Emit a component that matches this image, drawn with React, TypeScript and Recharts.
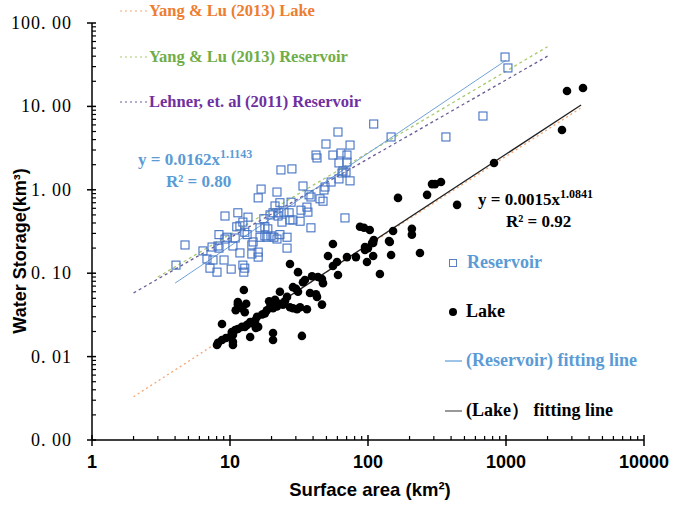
import React from 'react';
import { ScatterChart, Scatter, XAxis, YAxis } from 'recharts';

// axis ticks (log scales)
const X_MAJOR = [1, 10, 100, 1000, 10000];
const Y_MAJOR = [0.001, 0.01, 0.1, 1, 10, 100];
const STEPS = [1, 2, 3, 4, 5, 6, 7, 8, 9];
const X_TICKS = X_MAJOR.slice(0, -1).flatMap(d => STEPS.map(s => +(d * s).toPrecision(3))).concat([10000]);
const Y_TICKS = Y_MAJOR.slice(0, -1).flatMap(d => STEPS.map(s => +(d * s).toPrecision(3))).concat([100]);

// reservoirs: surface area (km2) / storage (km3)
const RES_AREA = [
  110, 60.6, 147, 49.6, 74.1, 42.0, 42.7, 55.7, 63.7, 70.4, 61.6, 70.4, 23.4, 28.1, 65.9, 69.3, 64.8, 61.6, 74.1, 54.0,
  48.8, 48.0, 33.8, 16.8, 21.9, 16.0, 37.4, 38.6, 44.9, 47.2, 27.7, 23.0, 21.2, 20.5, 22.6, 24.6, 26.8, 23.8, 27.2, 28.6,
  32.2, 32.7, 36.1, 36.7, 19.5, 22.3, 11.4, 13.5, 9.2, 12.4, 11.8, 11.2, 17.6, 17.9, 16.5, 18.5, 18.8, 38.6, 68.1, 8.32,
  9.51, 9.2, 10.9, 12.8, 13.3, 16.5, 17.9, 19.8, 20.8, 23.0, 25.9, 21.9, 4.72, 7.41, 8.18, 8.32, 10.5, 14.7, 14.4, 6.37,
  6.81, 7.53, 9.05, 11.8, 14.4, 16.0, 16.0, 25.9, 4.06, 7.16, 8.05, 10.2, 12.4, 12.6, 12.8, 984, 1033, 367, 681,
];
const RES_STORAGE = [
  6.15, 4.93, 4.3, 3.54, 3.44, 2.61, 2.41, 2.61, 2.76, 2.61, 2.1, 2.15, 1.73, 1.78, 1.68, 1.63, 1.59, 1.35, 1.28, 1.24,
  1.08, 0.995, 1.11, 1.02, 0.94, 0.8, 0.87, 0.82, 0.78, 0.73, 0.71, 0.7, 0.64, 0.53, 0.53, 0.54, 0.53, 0.41, 0.435, 0.435,
  0.42, 0.57, 0.62, 0.54, 0.5, 0.485, 0.53, 0.47, 0.485, 0.41, 0.37, 0.36, 0.45, 0.36, 0.35, 0.27, 0.34, 0.35, 0.46, 0.29,
  0.27, 0.257, 0.264, 0.31, 0.29, 0.27, 0.28, 0.28, 0.27, 0.29, 0.27, 0.257, 0.218, 0.206, 0.212, 0.2, 0.212, 0.237, 0.218, 0.185,
  0.148, 0.144, 0.144, 0.175, 0.17, 0.179, 0.156, 0.2, 0.125, 0.115, 0.103, 0.112, 0.125, 0.103, 0.115, 39.1, 28.9, 4.3, 7.67,
];

// lakes
const LAKE_AREA = [
  3614, 2767, 2545, 819, 291, 306, 338, 268, 165, 442, 87.5, 93.5, 103, 152, 208, 208, 142, 110, 107, 100,
  55.7, 147, 238, 51.3, 59.6, 55.7, 60.6, 70.4, 81.8, 95.1, 98.3, 109, 122, 27.2, 31.1, 39.3, 43.4, 46.4, 47.2, 33.8,
  34.9, 28.6, 30.1, 31.1, 23.0, 12.6, 25.9, 25.0, 38.0, 42.0, 42.7, 46.4, 36.1, 32.2, 27.2, 28.6, 30.6, 21.2, 20.2, 19.2,
  24.2, 23.0, 21.9, 20.5, 18.5, 19.5, 17.9, 17.1, 13.1, 11.4, 11.0, 12.8, 15.7, 15.2, 14.7, 14.0, 13.3, 12.8, 16.0, 15.4,
  12.2, 11.4, 10.9, 10.3, 10.5, 10.0, 9.35, 8.75, 8.18, 8.05, 8.75, 14.0, 20.5, 20.5, 33.2, 10.5, 10.5, 95.1, 109, 144,
  11.4, 12.2,
];
const LAKE_STORAGE = [
  16.6, 15.3, 5.21, 2.1, 1.17, 1.17, 1.24, 0.87, 0.8, 0.66, 0.36, 0.35, 0.33, 0.32, 0.34, 0.29, 0.243, 0.25, 0.23, 0.2,
  0.224, 0.165, 0.175, 0.161, 0.136, 0.122, 0.095, 0.156, 0.156, 0.19, 0.136, 0.161, 0.098, 0.129, 0.103, 0.092, 0.09, 0.085, 0.076, 0.078,
  0.083, 0.068, 0.065, 0.06, 0.06, 0.063, 0.052, 0.046, 0.058, 0.056, 0.052, 0.042, 0.037, 0.039, 0.039, 0.038, 0.037, 0.048, 0.045, 0.046,
  0.042, 0.043, 0.04, 0.038, 0.036, 0.039, 0.033, 0.032, 0.043, 0.042, 0.036, 0.034, 0.03, 0.027, 0.025, 0.026, 0.024, 0.0227, 0.0227, 0.022,
  0.0227, 0.0214, 0.0208, 0.0197, 0.0182, 0.0172, 0.0167, 0.0158, 0.0146, 0.0138, 0.0246, 0.0172, 0.0192, 0.0158, 0.0177, 0.0138, 0.015, 0.206, 0.23, 0.237,
  0.045, 0.038,
];

// fitted / reference lines (end points)
const RES_FIT = [{ x: 4, y: 0.076 }, { x: 1000, y: 35.7 }];
const LAKE_FIT = [{ x: 8, y: 0.0142 }, { x: 3500, y: 10.4 }];
const YANG_LAKE = [{ x: 2, y: 0.0033 }, { x: 3500, y: 9.6 }];
const YANG_RES = [{ x: 3, y: 0.09 }, { x: 2000, y: 52 }];
const LEHNER_RES = [{ x: 2, y: 0.058 }, { x: 2000, y: 40 }];

const reservoirs = RES_AREA.map((x, i) => ({ x, y: RES_STORAGE[i] }));
const lakes = LAKE_AREA.map((x, i) => ({ x, y: LAKE_STORAGE[i] }));

const SERIF = "'Liberation Serif', 'Times New Roman', serif";
const SANS = "'Liberation Sans', Arial, sans-serif";

const noShape = () => <g />;

const Square = (p: any) => (
  <rect x={p.cx - 4} y={p.cy - 4} width={8} height={8} fill="none" stroke="#4472C4" strokeWidth={1.1} />
);
const Dot = (p: any) => <circle cx={p.cx} cy={p.cy} r={4.3} fill="#000" />;

function YTick({ x, y, payload }: any) {
  const v = payload.value;
  const major = Y_MAJOR.includes(v);
  if (!major) return <line x1={x} x2={x + 4} y1={y} y2={y} stroke="#000" strokeWidth={1.2} />;
  return (
    <g>
      <line x1={x - 5} x2={x + 4} y1={y} y2={y} stroke="#000" strokeWidth={1.5} />
      <text x={x - 20} y={y} dy={6} textAnchor="end" fontFamily={SERIF} fontSize={18} letterSpacing={1} fill="#000">
        {v.toFixed(2).replace('.', '. ')}
      </text>
    </g>
  );
}

function XTick({ x, y, payload }: any) {
  const v = payload.value;
  const major = X_MAJOR.includes(v);
  if (!major) return <line x1={x} x2={x} y1={y} y2={y - 4} stroke="#000" strokeWidth={1.2} />;
  return (
    <g>
      <line x1={x} x2={x} y1={y - 5} y2={y + 6} stroke="#000" strokeWidth={1.5} />
      <text x={x} y={y + 28} textAnchor="middle" fontFamily={SANS} fontWeight="bold" fontSize={18} fill="#000">
        {v}
      </text>
    </g>
  );
}

function Note({ left, top, color, size = 17, children }: any) {
  return (
    <div
      style={{
        position: 'absolute', left, top: top - size * 0.6, lineHeight: `${size * 1.2}px`,
        fontFamily: SERIF, fontWeight: 'bold', fontSize: size, color, whiteSpace: 'nowrap',
      }}
    >
      {children}
    </div>
  );
}

function Seg({ left, top, width, color, dash }: any) {
  return (
    <svg style={{ position: 'absolute', left, top: top - 2 }} width={width} height={4}>
      <line x1={0} x2={width} y1={2} y2={2} stroke={color} strokeWidth={1.2} strokeDasharray={dash} />
    </svg>
  );
}

const sup = { fontSize: 12, position: 'relative' as const, top: -7 };

export default function App() {
  return (
    <div style={{ position: 'absolute', left: 0, top: 0, width: 675, height: 505, background: '#fff' }}>
      <ScatterChart width={675} height={505} margin={{ top: 23, right: 31, bottom: 0, left: 0 }}>
        <XAxis
          type="number" dataKey="x" scale="log" domain={[1, 10000]} ticks={X_TICKS} interval={0}
          height={65} tickSize={0} tickMargin={0} tickLine={false} tick={<XTick />}
          axisLine={{ stroke: '#000', strokeWidth: 1.5 }} allowDataOverflow
        />
        <YAxis
          type="number" dataKey="y" scale="log" domain={[0.001, 100]} ticks={Y_TICKS} interval={0}
          width={92} tickSize={0} tickMargin={0} tickLine={false} tick={<YTick />}
          axisLine={{ stroke: '#000', strokeWidth: 1.5 }} allowDataOverflow
        />
        <Scatter data={YANG_LAKE} line={{ stroke: '#F4A772', strokeWidth: 1.3, strokeDasharray: '2 3' }} shape={noShape} isAnimationActive={false} />
        <Scatter data={YANG_RES} line={{ stroke: '#A9C96A', strokeWidth: 1.3, strokeDasharray: '3 3' }} shape={noShape} isAnimationActive={false} />
        <Scatter data={LEHNER_RES} line={{ stroke: '#6A5A96', strokeWidth: 1.3, strokeDasharray: '3 3' }} shape={noShape} isAnimationActive={false} />
        <Scatter data={LAKE_FIT} line={{ stroke: '#222', strokeWidth: 1.3 }} shape={noShape} isAnimationActive={false} />
        <Scatter data={RES_FIT} line={{ stroke: '#6FA3D8', strokeWidth: 1 }} shape={noShape} isAnimationActive={false} />
        <Scatter data={reservoirs} shape={Square} isAnimationActive={false} />
        <Scatter data={lakes} shape={Dot} isAnimationActive={false} />
      </ScatterChart>

      {/* reference relations */}
      <Seg left={120} top={11} width={27} color="#F4A772" dash="2 3" />
      <Note left={149} top={11} color="#ED7D31" size={16.5}>Yang &amp; Lu (2013) Lake</Note>
      <Seg left={120} top={57} width={27} color="#A9C96A" dash="2 3" />
      <Note left={149} top={57} color="#70AD47" size={16.5}>Yang &amp; Lu (2013) Reservoir</Note>
      <Seg left={120} top={102} width={27} color="#6A5A96" dash="2 3" />
      <Note left={149} top={102} color="#7030A0" size={16.5}>Lehner, et. al (2011) Reservoir</Note>

      {/* equations */}
      <Note left={138} top={160} color="#5B9BD5">y = 0.0162x<span style={sup}>1.1143</span></Note>
      <Note left={166} top={182} color="#5B9BD5">R² = 0.80</Note>
      <Note left={478} top={200} color="#000">y = 0.0015x<span style={sup}>1.0841</span></Note>
      <Note left={506} top={222} color="#000">R² = 0.92</Note>

      {/* legend */}
      <svg style={{ position: 'absolute', left: 449, top: 259 }} width={9} height={9}>
        <rect x={0.5} y={0.5} width={7} height={7} fill="none" stroke="#5A7FC0" strokeWidth={1} />
      </svg>
      <Note left={467} top={263} color="#5B9BD5" size={18}>Reservoir</Note>
      <svg style={{ position: 'absolute', left: 448, top: 307 }} width={10} height={10}>
        <circle cx={5} cy={5} r={4} fill="#000" />
      </svg>
      <Note left={466} top={312} color="#000" size={18}>Lake</Note>
      <Seg left={445} top={361} width={17} color="#5B9BD5" />
      <Note left={466} top={361} color="#5B9BD5" size={18}>(Reservoir) fitting line</Note>
      <Seg left={445} top={411} width={17} color="#555" />
      <Note left={466} top={411} color="#000" size={18}>(Lake） fitting line</Note>

      {/* axis titles */}
      <div style={{ position: 'absolute', left: 370, top: 490, transform: 'translate(-50%, -50%)', fontFamily: SANS, fontWeight: 'bold', fontSize: 18.5, whiteSpace: 'nowrap' }}>
        Surface area (km²)
      </div>
      <div style={{ position: 'absolute', left: 20, top: 251, transform: 'translate(-50%, -50%) rotate(-90deg)', fontFamily: SANS, fontWeight: 'bold', fontSize: 18, whiteSpace: 'nowrap' }}>
        Water Storage(km³)
      </div>
    </div>
  );
}
